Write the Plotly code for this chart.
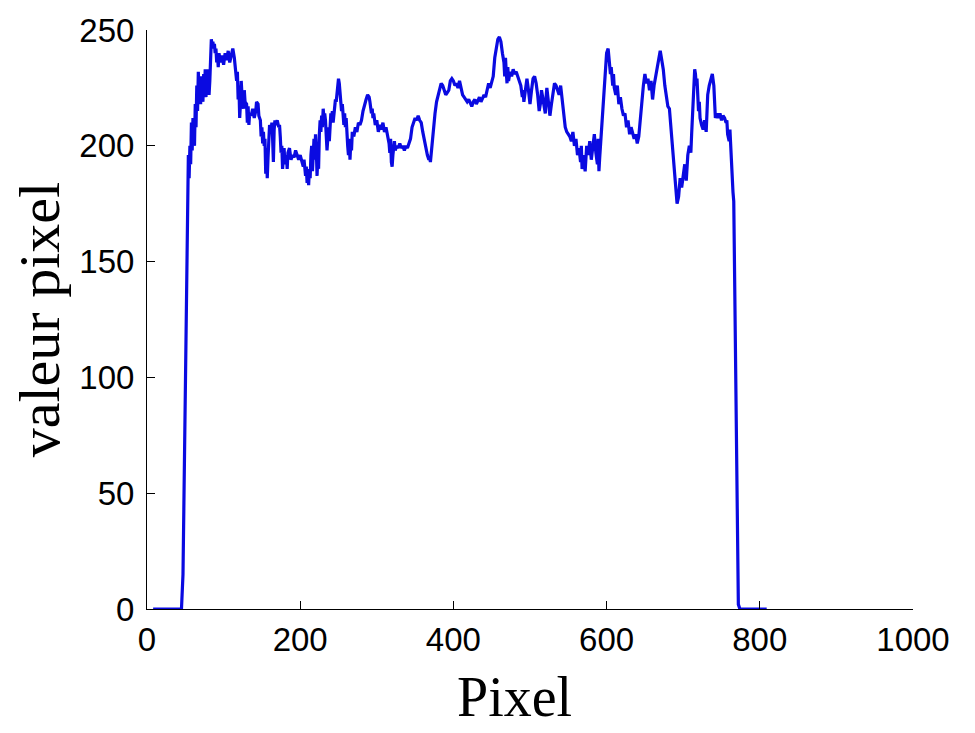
import plotly.graph_objects as go

pixel = [8, 20, 35, 45, 47, 50, 52, 53, 54, 55, 56, 57, 58, 59, 60, 61, 62, 63, 64, 65, 66, 67, 68, 69, 70,
         71, 72, 73, 74, 75, 76, 77, 78, 79, 80, 81, 82, 83, 84, 85, 86, 87, 88, 89, 90, 91, 92, 93, 94, 96,
         98, 100, 102, 104, 106, 108, 110, 112, 114, 115, 117, 118, 119, 120, 121, 122, 123, 124, 126, 127,
         128, 130, 131, 132, 133, 134, 136, 138, 140, 142, 143, 145, 146, 148, 149, 150, 151, 152, 153, 154,
         155, 156, 157, 158, 159, 160, 162, 163, 164, 165, 166, 167, 168, 170, 172, 173, 174, 175, 176, 177,
         178, 179, 180, 182, 183, 184, 186, 188, 190, 192, 194, 196, 198, 200, 202, 204, 205, 206, 207, 208,
         209, 210, 211, 212, 213, 214, 215, 216, 217, 218, 219, 220, 221, 222, 223, 224, 225, 226, 227, 228,
         229, 230, 231, 232, 233, 234, 235, 236, 237, 238, 239, 240, 241, 242, 243, 244, 245, 246, 247, 248,
         249, 250, 251, 252, 253, 254, 255, 256, 257, 258, 259, 260, 261, 262, 263, 264, 265, 266, 267, 268,
         270, 272, 274, 276, 278, 280, 282, 284, 286, 288, 290, 291, 292, 293, 294, 295, 296, 298, 300, 302,
         304, 306, 308, 310, 312, 314, 316, 317, 318, 319, 320, 321, 322, 323, 324, 326, 328, 330, 332, 334,
         336, 338, 340, 342, 344, 346, 348, 350, 352, 354, 356, 358, 360, 362, 364, 366, 368, 369, 370, 371,
         372, 374, 376, 378, 380, 382, 384, 386, 388, 390, 392, 394, 396, 398, 400, 402, 404, 406, 408, 410,
         412, 414, 416, 418, 420, 422, 424, 426, 428, 430, 432, 434, 436, 438, 440, 442, 444, 446, 448, 450,
         452, 454, 456, 458, 460, 462, 464, 466, 467, 468, 469, 470, 471, 472, 474, 476, 478, 480, 482, 484,
         486, 488, 490, 491, 492, 494, 496, 498, 499, 500, 502, 504, 506, 508, 510, 512, 514, 515, 516, 518,
         520, 521, 522, 524, 526, 528, 530, 532, 534, 536, 538, 540, 542, 544, 546, 548, 550, 552, 554, 556,
         558, 560, 562, 564, 566, 567, 568, 570, 572, 574, 576, 578, 580, 582, 584, 586, 588, 589, 590, 591,
         592, 594, 596, 598, 600, 602, 603, 604, 605, 606, 607, 608, 609, 610, 612, 614, 616, 618, 620, 622,
         624, 626, 628, 630, 632, 634, 636, 638, 640, 642, 644, 646, 648, 650, 652, 654, 656, 658, 660, 662,
         664, 666, 668, 670, 672, 674, 676, 678, 680, 682, 684, 686, 688, 690, 692, 694, 696, 698, 700, 702,
         704, 706, 708, 710, 711, 712, 713, 714, 715, 716, 717, 718, 719, 720, 721, 722, 724, 726, 728, 730,
         731, 732, 734, 736, 738, 740, 741, 742, 744, 746, 748, 750, 752, 754, 756, 757, 758, 760, 761, 762,
         763, 764, 765, 766, 768, 770, 772, 774, 790, 809]

valeur = [0, 0, 0, 0, 15, 90, 150, 188, 196, 186, 200, 192, 210, 198, 212, 205, 200, 218, 208, 226, 215, 232, 220, 228, 218,
          230, 222, 219, 231, 224, 233, 221, 230, 225, 233, 222, 228, 235, 246, 243, 245, 242, 244, 240, 242, 236, 239, 234, 240, 236,
          239, 235, 240, 237, 241, 236, 240, 242, 238, 233, 228, 232, 220, 226, 212, 218, 228, 222, 216, 224,
          219, 218, 210, 217, 209, 214, 213, 216, 212, 215, 219, 218, 213, 211, 204, 208, 201, 206, 200, 203,
          188, 199, 186, 195, 205, 209, 206, 210, 203, 193, 207, 211, 209, 211, 208, 209, 204, 197, 200, 190,
          195, 199, 192, 196, 190, 197, 199, 194, 196, 195, 198, 196, 194, 196, 193, 191, 194, 189, 187, 191,
          184, 188, 183, 190, 186, 196, 200, 189, 197, 203, 194, 205, 199, 187, 195, 190, 205, 211, 206, 213,
          208, 216, 212, 214, 211, 205, 198, 203, 208, 202, 210, 214, 212, 215, 210, 213, 217, 220, 219, 224,
          226, 229, 227, 224, 221, 215, 218, 212, 209, 214, 208, 212, 203, 200, 196, 203, 194, 201, 198, 206,
          204, 208, 206, 210, 209, 211, 215, 218, 220, 222, 221, 219, 217, 214, 216, 212, 214, 209, 211, 206,
          209, 207, 210, 206, 208, 205, 201, 197, 203, 193, 191, 196, 199, 202, 198, 200, 199, 201, 199, 200,
          198, 200, 199, 201, 203, 208, 210, 212, 211, 213, 211, 210, 206, 202, 199, 196, 194, 195, 193, 197,
          202, 208, 214, 219, 222, 225, 227, 226, 224, 222, 223, 224, 228, 229, 228, 226, 227, 225, 228, 224,
          222, 221, 220, 219, 220, 218, 217, 219, 220, 218, 220, 221, 219, 221, 222, 221, 224, 227, 225, 228,
          230, 238, 243, 246, 247, 245, 240, 236, 230, 238, 232, 227, 234, 228, 232, 230, 233, 231, 232, 230,
          229, 226, 221, 224, 219, 223, 229, 224, 220, 218, 224, 229, 230, 227, 222, 215, 219, 224, 222, 217,
          214, 221, 225, 219, 213, 218, 224, 227, 226, 224, 222, 226, 219, 212, 208, 206, 205, 204, 202, 206,
          200, 203, 196, 199, 193, 200, 190, 196, 189, 200, 196, 202, 194, 199, 205, 197, 192, 203, 189, 195,
          200, 210, 222, 232, 240, 242, 238, 236, 231, 234, 229, 226, 231, 225, 222, 226, 218, 221, 216, 213,
          214, 208, 211, 205, 208, 206, 203, 205, 201, 204, 212, 220, 226, 231, 227, 229, 224, 228, 220, 226,
          230, 234, 238, 241, 237, 233, 226, 220, 217, 216, 208, 198, 190, 180, 175, 178, 186, 182, 188, 192,
          185, 196, 200, 197, 205, 214, 222, 228, 233, 231, 226, 229, 222, 215, 219, 212, 209, 207, 211, 206,
          214, 222, 226, 228, 231, 226, 216, 212, 214, 212, 214, 211, 213, 212, 210, 211, 205, 202, 207, 198,
          190, 185, 180, 176, 110, 40, 2, 0, 0, 0]

x_ticks = [0, 200, 400, 600, 800, 1000]
y_ticks = [0, 50, 100, 150, 200, 250]

fig = go.Figure()
fig.add_trace(go.Scatter(x=pixel, y=valeur, mode="lines",
                         line=dict(color="rgb(10,10,225)", width=3.2),
                         showlegend=False, hoverinfo="skip"))

axis_common = dict(showline=True, linecolor="black", linewidth=1, mirror=False,
                   ticks="inside", ticklen=8, tickwidth=1, tickcolor="black",
                   showgrid=False, zeroline=False,
                   tickfont=dict(family="Liberation Sans, Arial, sans-serif", size=33, color="black"))

fig.update_xaxes(range=[0, 1000], tickvals=x_ticks, ticktext=[str(v) for v in x_ticks],
                 ticklabelstandoff=1, **axis_common)
fig.update_yaxes(range=[0, 250], tickvals=y_ticks, ticktext=[str(v) for v in y_ticks],
                 ticklabelstandoff=5, **axis_common)

fig.add_annotation(text="Pixel", xref="paper", yref="paper", x=0.48, y=-0.152,
                   showarrow=False, xanchor="center", yanchor="middle",
                   font=dict(family="Liberation Serif, Times New Roman, serif", size=56, color="black"))
fig.add_annotation(text="valeur pixel", xref="paper", yref="paper", x=-0.14, y=0.5,
                   showarrow=False, xanchor="center", yanchor="middle", textangle=-90,
                   font=dict(family="Liberation Serif, Times New Roman, serif", size=58, color="black"))

fig.update_layout(width=975, height=733, plot_bgcolor="white", paper_bgcolor="white",
                  margin=dict(l=147, r=62, t=25, b=124))

fig.write_html("out.html")
